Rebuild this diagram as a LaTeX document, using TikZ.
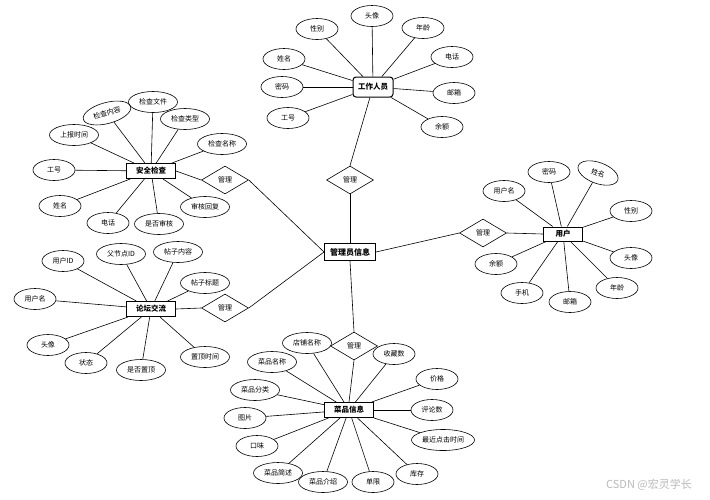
\documentclass[tikz,border=0pt]{standalone}
\usepackage{fontspec}
\setmainfont{Noto Sans CJK SC}
\usetikzlibrary{shapes.geometric}
\tikzset{
    attr/.style={draw, ellipse, minimum width=42pt, minimum height=21pt, inner sep=0pt},
    wideattr/.style={attr, minimum width=49pt},
    entity/.style={draw, line width=1pt, rectangle, minimum width=49pt, minimum height=15pt, inner sep=1pt, font=\fontsize{7.5}{9}\selectfont\bfseries},
    rel/.style={draw, diamond, minimum width=47pt, minimum height=28pt, inner sep=0pt, aspect=1.7},
}

\begin{document}
\begin{tikzpicture}[x=1pt, y=-1pt, line width=0.6pt, font=\fontsize{7}{8}\selectfont]
    \useasboundingbox (0,0) rectangle (710,499);
    % entities
    \node[entity, minimum width=51pt, minimum height=17pt, font=\fontsize{8}{9}\selectfont\bfseries] (admin) at (350,252) {管理员信息};
    \node[entity, rounded corners=3pt, minimum width=40pt, minimum height=20pt] (staff) at (373,87) {工作人员};
    \node[entity] (check) at (151,171) {安全检查};
    \node[entity] (forum) at (151,309) {论坛交流};
    \node[entity, minimum width=39pt, minimum height=14pt] (user) at (563,234) {用户};
    \node[entity] (dish) at (349,410) {菜品信息};
    % relations
    \node[rel] (rstaff) at (350,180) {管理};
    \node[rel] (rcheck) at (225,180) {管理};
    \node[rel] (rforum) at (225,308) {管理};
    \node[rel] (ruser) at (483,233) {管理};
    \node[rel] (rdish) at (354,346) {管理};
    \draw (admin.north) -- (rstaff.south);
    \draw (rstaff.north) -- (staff);
    \draw (admin.west) -- (rcheck.east);
    \draw (rcheck.west) -- (check.east);
    \draw (admin.west) -- (rforum.east);
    \draw (rforum.west) -- (forum.east);
    \draw (admin.east) -- (ruser.west);
    \draw (ruser.east) -- (user.west);
    \draw (admin.south) -- (rdish.north);
    \draw (rdish.south) -- (dish.north);
    % staff attributes
    \node[attr] (s1) at (317,29) {性别};
    \node[attr] (s2) at (372,16) {头像};
    \node[attr] (s3) at (423,28) {年龄};
    \node[attr] (s4) at (284,59) {姓名};
    \node[attr] (s5) at (282,87) {密码};
    \node[attr] (s6) at (288,118) {工号};
    \node[attr] (s7) at (452,57) {电话};
    \node[attr] (s8) at (454,93) {邮箱};
    \node[attr] (s9) at (442,127) {余额};
    \foreach \a in {s1,s2,s3,s4,s5,s6,s7,s8,s9}
        \draw (\a) -- (staff);
    % check attributes
    \node[wideattr, rotate=15] (c1) at (107,113) {检查内容};
    \node[wideattr] (c2) at (153,102) {检查文件};
    \node[wideattr] (c3) at (185,119) {检查类型};
    \node[wideattr] (c4) at (222,144) {检查名称};
    \node[wideattr] (c5) at (74,135) {上报时间};
    \node[attr] (c6) at (54,170) {工号};
    \node[attr] (c7) at (60,206) {姓名};
    \node[attr] (c8) at (108,223) {电话};
    \node[wideattr] (c9) at (159,224) {是否审核};
    \node[wideattr] (c10) at (205,207) {审核回复};
    \foreach \a in {c1,c2,c3,c4,c5,c6,c7,c8,c9,c10}
        \draw (\a) -- (check);
    % forum attributes
    \node[attr] (f1) at (63,261) {用户ID};
    \node[wideattr] (f2) at (121,254) {父节点ID};
    \node[wideattr] (f3) at (178,252) {帖子内容};
    \node[wideattr] (f4) at (205,283) {帖子标题};
    \node[attr] (f5) at (35,299) {用户名};
    \node[attr] (f6) at (48,345) {头像};
    \node[attr] (f7) at (86,363) {状态};
    \node[wideattr] (f8) at (141,370) {是否置顶};
    \node[wideattr] (f9) at (205,357) {置顶时间};
    \foreach \a in {f1,f2,f3,f4,f5,f6,f7,f8,f9}
        \draw (\a) -- (forum);
    % user attributes
    \node[attr] (u1) at (504,191) {用户名};
    \node[attr] (u2) at (549,172) {密码};
    \node[attr, rotate=-20] (u3) at (598,173) {姓名};
    \node[attr] (u4) at (631,211) {性别};
    \node[attr] (u5) at (631,258) {头像};
    \node[attr] (u6) at (617,288) {年龄};
    \node[attr] (u7) at (570,302) {邮箱};
    \node[attr] (u8) at (522,293) {手机};
    \node[attr] (u9) at (496,264) {余额};
    \foreach \a in {u1,u2,u3,u4,u5,u6,u7,u8,u9}
        \draw (\a) -- (user);
    % dish attributes
    \node[wideattr] (d1) at (307,343) {店铺名称};
    \node[wideattr] (d2) at (272,362) {菜品名称};
    \node[attr] (d3) at (394,354) {收藏数};
    \node[wideattr] (d4) at (255,390) {菜品分类};
    \node[attr] (d5) at (437,379) {价格};
    \node[attr] (d6) at (245,418) {图片};
    \node[attr] (d7) at (432,410) {评论数};
    \node[attr] (d8) at (257,446) {口味};
    \node[attr, minimum width=63pt] (d9) at (443,440) {最近点击时间};
    \node[wideattr] (d10) at (278,473) {菜品简述};
    \node[wideattr] (d11) at (323,482) {菜品介绍};
    \node[attr] (d12) at (373,482) {单限};
    \node[attr] (d13) at (417,474) {库存};
    \foreach \a in {d1,d2,d3,d4,d5,d6,d7,d8,d9,d10,d11,d12,d13}
        \draw (\a) -- (dish);
    \node[text=gray!55, font=\fontsize{11}{12}\selectfont] (mark) at (649,485) {CSDN @宏灵学长};
\end{tikzpicture}
\end{document}
